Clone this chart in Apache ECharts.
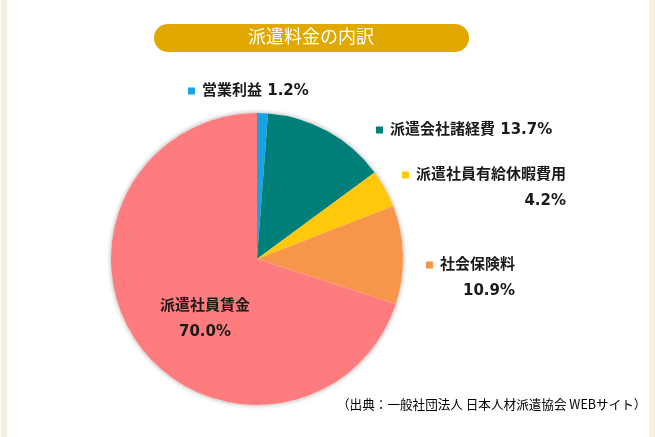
<!DOCTYPE html>
<html>
<head>
<meta charset="utf-8">
<script src="https://cdn.jsdelivr.net/npm/echarts@6/dist/echarts.min.js"></script>
<style>
html,body{margin:0;padding:0;background:#fff;}
#chart{width:655px;height:437px;}
</style>
</head>
<body>
<div id="chart"></div>
<script>
var titleText = '派遣料金の内訳';
var sourceText = '（出典：一般社団法人 日本人材派遣協会 WEBサイト）';
var categories = ['営業利益', '派遣会社諸経費', '派遣社員有給休暇費用', '社会保険料', '派遣社員賃金'];
var values = [1.2, 13.7, 4.2, 10.9, 70.0];
var colors = ['#1aa3e4', '#007e79', '#ffc80a', '#f7964a', '#ff7c7e'];

// label anchor positions (style)
var labelPos = [
  {x: 188, y: 78, align: 'left'},
  {x: 376, y: 117, align: 'left'},
  {x: 402, y: 162, align: 'left'},
  {x: 426, y: 252, align: 'left'},
  {x: 205, y: 293, align: 'center'}
];
var labelMode = ['inline', 'inline', 'twoRight', 'twoRight', 'twoCenter'];

var chart = echarts.init(document.getElementById('chart'));

var data = categories.map(function (c, i) {
  var fmt;
  var pct = values[i].toFixed(1) + '%';
  if (labelMode[i] === 'inline') {
    fmt = '{m' + i + '| }{g| }{n|' + c + ' ' + pct + '}';
  } else if (labelMode[i] === 'twoRight') {
    fmt = '{m' + i + '| }{g| }{n|' + c + '}\n{r|' + pct + '}';
  } else {
    fmt = '{n|' + c + '}\n{n|' + pct + '}';
  }
  return {
    name: c,
    value: values[i],
    itemStyle: {color: colors[i]},
    label: {formatter: fmt}
  };
});

var labelFont = '"DejaVu Sans", "Noto Sans CJK JP", sans-serif';
var rich = {
  g: {width: 7, fontSize: 8},
  n: {fontSize: 15, fontWeight: 'bold', color: '#1a1a1a', fontFamily: labelFont, lineHeight: 26},
  r: {fontSize: 15, fontWeight: 'bold', color: '#1a1a1a', fontFamily: labelFont, lineHeight: 26, align: 'right'}
};
colors.forEach(function (col, i) {
  rich['m' + i] = {width: 7, height: 7, backgroundColor: col, fontSize: 6, lineHeight: 7};
});

chart.setOption({
  backgroundColor: '#ffffff',
  animation: false,
  graphic: [
    {type: 'rect', left: 1, top: 0, shape: {width: 6, height: 437}, style: {fill: '#f6f0e0'}, silent: true},
    {type: 'rect', left: 649, top: 0, shape: {width: 6, height: 437}, style: {fill: '#f6f0e0'}, silent: true},
    {type: 'rect', left: 154, top: 24, shape: {width: 315, height: 28, r: 14}, style: {fill: '#e1a900'}, silent: true},
    {type: 'text', left: 248, top: 27, style: {text: titleText, fill: '#ffffff', font: '18px "Noto Sans CJK JP", sans-serif'}, silent: true},
    {type: 'text', left: 337, top: 398, style: {text: sourceText, fill: '#000000', font: '12.6px "Noto Sans CJK JP", sans-serif'}, silent: true}
  ],
  series: [
    {
      type: 'pie',
      silent: true,
      center: [257, 259],
      radius: 146,
      z: 1,
      label: {show: false},
      labelLine: {show: false},
      itemStyle: {color: '#ffffff', shadowBlur: 5, shadowColor: 'rgba(0,0,0,0.35)'},
      data: [{value: 1}]
    },
    {
      type: 'pie',
      z: 2,
      center: [257, 259],
      radius: 146,
      startAngle: 90,
      clockwise: true,
      avoidLabelOverlap: false,
      label: {show: true, position: 'outside', rich: rich},
      labelLine: {show: false},
      labelLayout: function (p) {
        var lp = labelPos[p.dataIndex];
        return {x: lp.x, y: lp.y, align: lp.align, verticalAlign: 'top'};
      },
      emphasis: {disabled: true},
      data: data
    }
  ]
});
</script>
</body>
</html>
